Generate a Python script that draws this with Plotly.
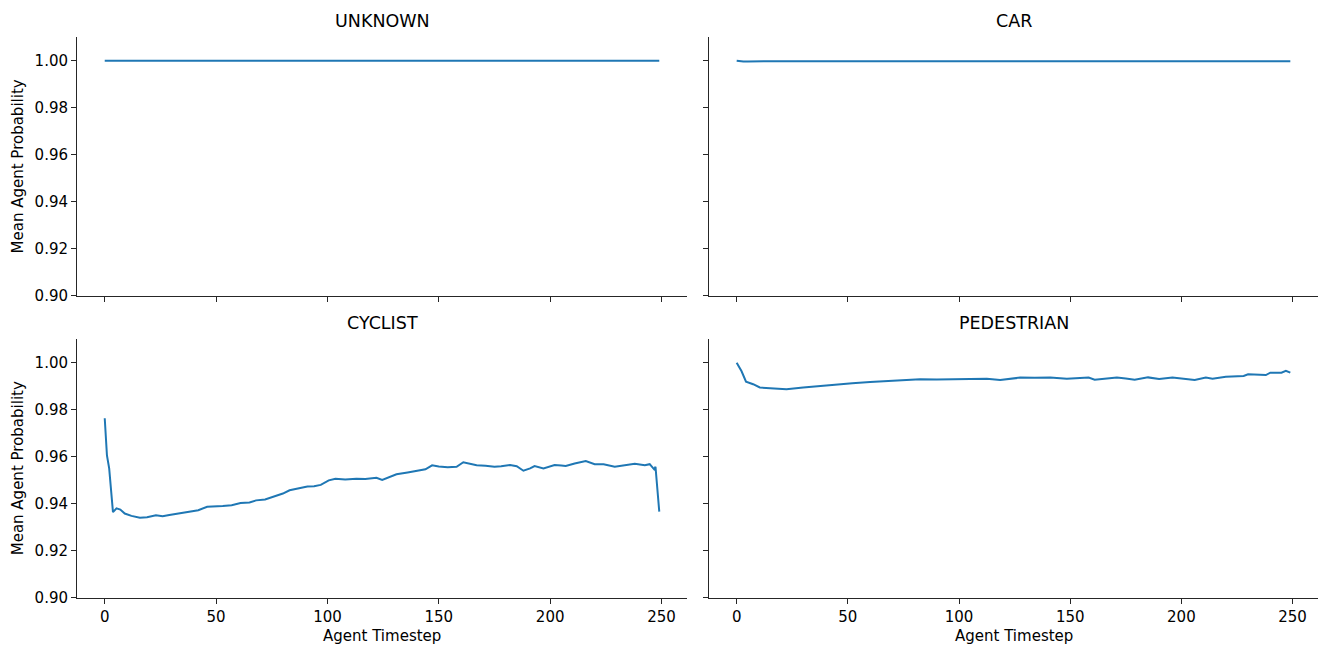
import plotly.graph_objects as go

# ---- data ----
panel_titles = ["UNKNOWN", "CAR", "CYCLIST", "PEDESTRIAN"]

unknown_x = [0, 50, 100, 150, 200, 249]
unknown_y = [1.0, 1.0, 1.0, 1.0, 1.0, 1.0]

car_x = [0, 1, 2, 3, 5, 8, 15, 30, 60, 100, 150, 200, 249]
car_y = [1.0, 0.99985, 0.9997, 0.99965, 0.9997, 0.99975, 0.9998, 0.9998, 0.9998, 0.9998, 0.9998, 0.9998, 0.9998]

cyclist_x = [0, 1, 2, 3, 3.7, 5.3, 7, 9, 12, 15.8, 19, 23, 26, 29, 32, 35, 38, 42, 46, 50, 53,
             57, 61, 65, 68, 72, 76, 80, 83, 87, 91, 94, 97, 100.6, 103.6, 108, 113, 117, 122,
             124.6, 128, 131, 136, 142, 144, 147, 150, 154, 158, 161, 164, 167, 171, 175, 178,
             180, 182, 185, 188, 191, 193, 197, 202, 205, 207, 211, 216, 220, 224, 229, 234,
             238, 242.5, 244.7, 246.7, 247.3, 249]
cyclist_y = [0.9763, 0.9605, 0.955, 0.945, 0.9364, 0.938, 0.9375, 0.9358, 0.9348, 0.934, 0.9342,
             0.9351, 0.9347, 0.9352, 0.9357, 0.9359, 0.9366, 0.9372, 0.9387, 0.9387, 0.939,
             0.9393, 0.9403, 0.9405, 0.9414, 0.9418, 0.9431, 0.9443, 0.9457, 0.9465, 0.9473,
             0.9474, 0.948, 0.9499, 0.9506, 0.9503, 0.9506, 0.9505, 0.951, 0.9501, 0.9513,
             0.9525, 0.9533, 0.9543, 0.9546, 0.9563, 0.9558, 0.9555, 0.9557, 0.9576, 0.9569,
             0.9563, 0.9561, 0.9557, 0.9559, 0.956, 0.9564, 0.9559, 0.954, 0.955, 0.956, 0.955,
             0.9564, 0.9562, 0.956, 0.9571, 0.9581, 0.9568, 0.9568, 0.9557, 0.9566, 0.957,
             0.9563, 0.9568, 0.9546, 0.9557, 0.9366]

ped_x = [0, 2.2, 4.2, 7.4, 10.4, 16, 22.4, 29.9, 37, 45, 52, 60, 67, 75, 82.5, 90, 97.5, 105,
         112.5, 118.5, 127.5, 134, 141, 148.5, 153, 158.3, 161, 166, 171, 175, 179, 185, 190,
         196, 201, 206, 211, 214, 220, 224, 228, 230, 238, 240, 245, 247, 249]
ped_y = [0.9999, 0.9963, 0.9919, 0.9908, 0.9894, 0.989, 0.9887, 0.9894, 0.99, 0.9908, 0.9912,
         0.9917, 0.9921, 0.9924, 0.9929, 0.9928, 0.9929, 0.993, 0.9931, 0.9926, 0.9936,
         0.9935, 0.9937, 0.9931, 0.9934, 0.9936, 0.9927, 0.9931, 0.9936, 0.9932, 0.9927,
         0.9937, 0.993, 0.9937, 0.9932, 0.9926, 0.9936, 0.9931, 0.994, 0.994, 0.9943, 0.995,
         0.9947, 0.9957, 0.9957, 0.9965, 0.9957]

y_ticks = [0.90, 0.92, 0.94, 0.96, 0.98, 1.00]
x_ticks = [0, 50, 100, 150, 200, 250]

series = [(unknown_x, unknown_y), (car_x, car_y), (cyclist_x, cyclist_y), (ped_x, ped_y)]

# ---- layout geometry ----
W, H = 1325, 660
x_domains = [[77 / W, 687 / W], [709 / W, 1318 / W]]
y_domains = [[1 - 300 / H, 1 - 37.5 / H], [1 - 606 / H, 1 - 343.5 / H]]

FONT = "DejaVu Sans"
LINE_COLOR = "#1f77b4"
AXIS_COLOR = "#262626"

fig = go.Figure()
layout = dict(
    width=W, height=H,
    margin=dict(l=0, r=0, t=0, b=0),
    paper_bgcolor="white", plot_bgcolor="white",
    showlegend=False,
    font=dict(family=FONT, size=15, color="#000000"),
    annotations=[],
)

for i, (xs, ys) in enumerate(series):
    row, col = divmod(i, 2)
    n = i + 1
    xa = "x" if n == 1 else f"x{n}"
    ya = "y" if n == 1 else f"y{n}"
    fig.add_trace(go.Scatter(x=xs, y=ys, mode="lines", xaxis=xa, yaxis=ya,
                             line=dict(color=LINE_COLOR, width=2)))
    common = dict(showgrid=False, zeroline=False, showline=True, linecolor=AXIS_COLOR,
                  linewidth=1, ticks="outside", ticklen=5, tickwidth=1, tickcolor=AXIS_COLOR,
                  tickfont=dict(family=FONT, size=15, color="#000000"))
    layout["xaxis" if n == 1 else f"xaxis{n}"] = dict(
        domain=x_domains[col], anchor=ya, range=[-12.45, 261.45],
        tickvals=x_ticks, showticklabels=(row == 1), **common)
    layout["yaxis" if n == 1 else f"yaxis{n}"] = dict(
        domain=y_domains[row], anchor=xa, range=[0.9, 1.0101],
        tickvals=y_ticks, tickformat=".2f", showticklabels=(col == 0), **common)
    # panel title
    layout["annotations"].append(dict(
        text=panel_titles[i], xref="paper", yref="paper",
        x=sum(x_domains[col]) / 2, y=y_domains[row][1] + 16 / H,
        xanchor="center", yanchor="middle", showarrow=False,
        font=dict(family=FONT, size=17.5, color="#000000")))
    if col == 0:
        layout["annotations"].append(dict(
            text="Mean Agent Probability", xref="paper", yref="paper",
            x=18 / W, y=sum(y_domains[row]) / 2, textangle=-90,
            xanchor="center", yanchor="middle", showarrow=False,
            font=dict(family=FONT, size=15, color="#000000")))
    if row == 1:
        layout["annotations"].append(dict(
            text="Agent Timestep", xref="paper", yref="paper",
            x=sum(x_domains[col]) / 2, y=1 - 645 / H,
            xanchor="center", yanchor="middle", showarrow=False,
            font=dict(family=FONT, size=15, color="#000000")))

fig.update_layout(**layout)
fig.write_html("out.html")
